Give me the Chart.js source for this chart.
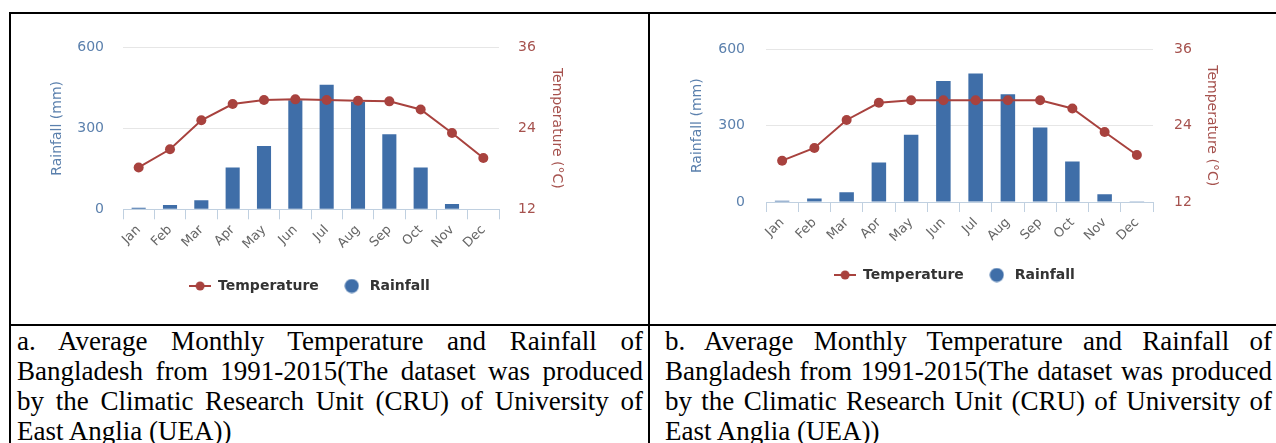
<!DOCTYPE html>
<html>
<head>
<meta charset="utf-8">
<script src="https://cdn.jsdelivr.net/npm/chart.js@4/dist/chart.umd.min.js"></script>
<style>
    body { margin: 0; background: #fff; width: 1276px; height: 443px; overflow: hidden; position: relative; }
    .rule { position: absolute; background: #000; }
    canvas { position: absolute; }
    .caption {
        position: absolute;
        font-family: 'Liberation Serif', 'Times New Roman', serif;
        font-size: 27px;
        line-height: 30px;
        text-align: justify;
        color: #000;
    }
</style>
</head>
<body>
    <!-- table rules -->
    <div class="rule" style="left:9px;top:12px;width:1267px;height:2px"></div>
    <div class="rule" style="left:9px;top:12px;width:2px;height:431px"></div>
    <div class="rule" style="left:648px;top:12px;width:2px;height:431px"></div>
    <div class="rule" style="left:9px;top:324px;width:1267px;height:2px"></div>

    <canvas id="chartA" width="539" height="283" style="left:40px;top:20px"></canvas>
    <canvas id="chartB" width="549" height="272" style="left:680px;top:20px"></canvas>

    <div class="caption" style="left:17px;top:326px;width:626px">a. Average Monthly Temperature and Rainfall of Bangladesh from 1991-2015(The dataset was produced by the Climatic Research Unit (CRU) of University of East Anglia (UEA))</div>
    <div class="caption" style="left:665px;top:326px;width:607px">b. Average Monthly Temperature and Rainfall of Bangladesh from 1991-2015(The dataset was produced by the Climatic Research Unit (CRU) of University of East Anglia (UEA))</div>

<script>
const months = ['Jan', 'Feb', 'Mar', 'Apr', 'May', 'Jun', 'Jul', 'Aug', 'Sep', 'Oct', 'Nov', 'Dec'];

// chart a
const rainfallA = [6, 16, 34, 155, 235, 404, 462, 398, 278, 155, 20, 2];
const temperatureA = [18.2, 20.9, 25.2, 27.6, 28.2, 28.3, 28.2, 28.1, 28.0, 26.8, 23.3, 19.6];

// chart b
const rainfallB = [5, 14, 38, 155, 264, 476, 505, 424, 293, 159, 30, 1];
const temperatureB = [18.5, 20.5, 24.9, 27.6, 28.0, 28.0, 28.0, 28.0, 28.0, 26.7, 23.0, 19.4];

const rainfallTicks = [0, 300, 600];
const temperatureTicks = [12, 24, 36];

document.addEventListener('DOMContentLoaded', () => {
    const barColor = '#3f6ea8';
    const lineColor = '#a8423e';

    Chart.defaults.font.family = "'DejaVu Sans', sans-serif";
    Chart.defaults.animation = false;

    // little legend symbols: line with a marker, and a plain dot
    const lineIcon = document.createElement('canvas');
    lineIcon.width = 22;
    lineIcon.height = 12;
    let g = lineIcon.getContext('2d');
    g.strokeStyle = lineColor;
    g.lineWidth = 2;
    g.beginPath();
    g.moveTo(0, 6);
    g.lineTo(22, 6);
    g.stroke();
    g.fillStyle = lineColor;
    g.beginPath();
    g.arc(11, 6, 4.5, 0, Math.PI * 2);
    g.fill();

    const dotIcon = document.createElement('canvas');
    dotIcon.width = 15;
    dotIcon.height = 15;
    g = dotIcon.getContext('2d');
    g.fillStyle = barColor;
    g.beginPath();
    g.arc(7.5, 7.5, 7, 0, Math.PI * 2);
    g.fill();

    function createClimateChart(canvasId, rainfall, temperature, box) {
        const ctx = document.getElementById(canvasId).getContext('2d');

        return new Chart(ctx, {
            type: 'bar',
            data: {
                labels: months,
                datasets: [{
                    type: 'line',
                    label: 'Temperature',
                    data: temperature,
                    yAxisID: 'y1',
                    borderColor: lineColor,
                    backgroundColor: lineColor,
                    borderWidth: 2,
                    pointRadius: 5,
                    pointBorderWidth: 0,
                    tension: 0,
                    order: 0
                }, {
                    label: 'Rainfall',
                    data: rainfall,
                    yAxisID: 'y',
                    backgroundColor: barColor,
                    categoryPercentage: 1,
                    barPercentage: 0.45,
                    order: 1
                }]
            },
            options: {
                responsive: false,
                layout: { padding: { top: box.padTop, left: 0, right: 0, bottom: 0 } },
                plugins: {
                    tooltip: { enabled: false },
                    legend: {
                        position: 'bottom',
                        labels: {
                            usePointStyle: true,
                            pointStyleWidth: 22,
                            padding: 22,
                            color: '#333',
                            font: { size: 14, weight: 'bold' },
                            generateLabels: chart => Chart.defaults.plugins.legend.labels.generateLabels(chart).map(item => {
                                item.pointStyle = item.text === 'Temperature' ? lineIcon : dotIcon;
                                return item;
                            })
                        }
                    }
                },
                scales: {
                    x: {
                        grid: { offset: true, drawOnChartArea: false, drawTicks: true, tickLength: 10, color: '#c0d0e0' },
                        border: { color: '#c0d0e0' },
                        ticks: { color: '#666', font: { size: 13 }, minRotation: 45, maxRotation: 45, padding: 3 },
                        afterFit: s => { s.height = box.xHeight; }
                    },
                    y: {
                        position: 'left',
                        min: rainfallTicks[0],
                        max: rainfallTicks[rainfallTicks.length - 1],
                        afterBuildTicks: s => { s.ticks = rainfallTicks.map(v => ({ value: v })); },
                        grid: { color: '#e6e6e6', drawTicks: false },
                        border: { display: false },
                        ticks: { color: '#5b80ad', font: { size: 14 }, padding: box.tickPad },
                        title: { display: true, text: 'Rainfall (mm)', color: '#5b80ad', font: { size: 14 }, padding: { top: box.leftTitle, bottom: 0 } },
                        afterFit: s => { s.width = box.leftWidth; }
                    },
                    y1: {
                        position: 'right',
                        min: temperatureTicks[0],
                        max: temperatureTicks[temperatureTicks.length - 1],
                        afterBuildTicks: s => { s.ticks = temperatureTicks.map(v => ({ value: v })); },
                        grid: { drawOnChartArea: false, drawTicks: false },
                        border: { display: false },
                        ticks: { color: '#a6524e', font: { size: 14 }, padding: box.tickPad },
                        title: { display: true, text: 'Temperature (°C)', color: '#a6524e', font: { size: 14 }, padding: { top: box.rightTitle, bottom: 0 } },
                        afterFit: s => { s.width = box.rightWidth; }
                    }
                }
            }
        });
    }

    createClimateChart('chartA', rainfallA, temperatureA, {
        padTop: 27.3, xHeight: 47.7, leftWidth: 83, rightWidth: 80, tickPad: 19, leftTitle: 8.6, rightTitle: 14
    });
    createClimateChart('chartB', rainfallB, temperatureB, {
        padTop: 26, xHeight: 44, leftWidth: 86, rightWidth: 76, tickPad: 21, leftTitle: 8.6, rightTitle: 8.9
    });
});
</script>
</body>
</html>
